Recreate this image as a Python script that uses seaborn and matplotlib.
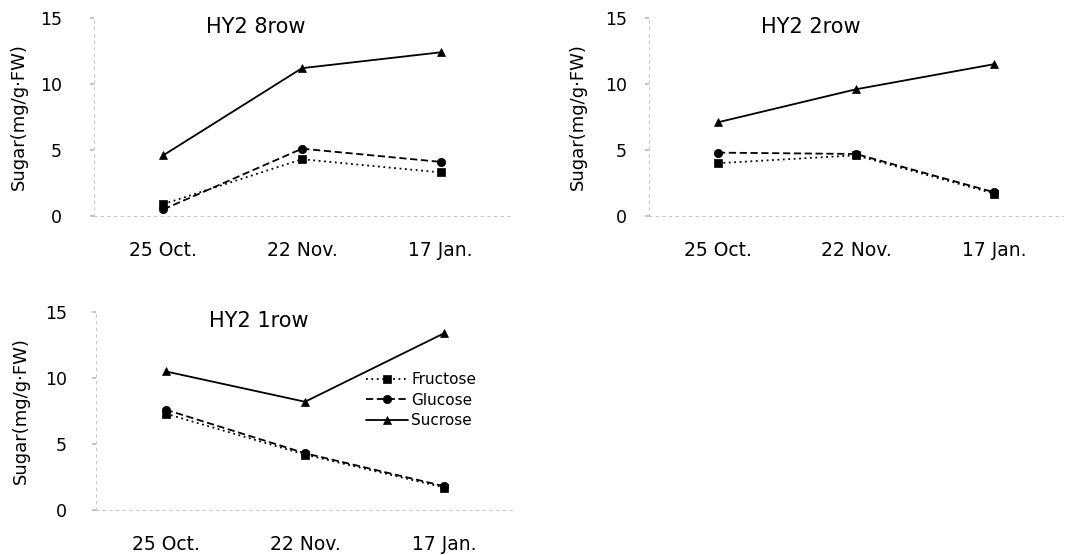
import matplotlib
matplotlib.use("Agg")
import matplotlib.pyplot as plt
import seaborn as sns
import pandas as pd

dates = ["25 Oct.", "22 Nov.", "17 Jan."]
sugars = ["Fructose", "Glucose", "Sucrose"]
titles = ["HY2 8row", "HY2 2row", "HY2 1row"]

row8_fructose = [0.9, 4.3, 3.3]
row8_glucose = [0.5, 5.1, 4.1]
row8_sucrose = [4.6, 11.2, 12.4]

row2_fructose = [4.0, 4.6, 1.7]
row2_glucose = [4.8, 4.7, 1.8]
row2_sucrose = [7.1, 9.6, 11.5]

row1_fructose = [7.3, 4.2, 1.7]
row1_glucose = [7.6, 4.3, 1.8]
row1_sucrose = [10.5, 8.2, 13.4]

yticks = [0, 5, 10, 15]

panels = [
    (titles[0], [row8_fructose, row8_glucose, row8_sucrose]),
    (titles[1], [row2_fructose, row2_glucose, row2_sucrose]),
    (titles[2], [row1_fructose, row1_glucose, row1_sucrose]),
]

sns.set_theme(style="white")
plt.rcParams['font.family'] = ['DejaVu Sans']
plt.rcParams['text.color'] = 'black'
plt.rcParams['axes.labelcolor'] = 'black'

fig = plt.figure(figsize=(10.68, 5.55), dpi=100)
W, H = 1068, 555
boxes = [
    (94, 18, 510, 216),
    (649, 18, 1063, 216),
    (96, 312, 514, 510),
]
ytick_pads = [20, 13, 18]
ylabel_pads = [9, 13, 11]
xtick_pads = [18, 18, 18]

markers = {"Fructose": "s", "Glucose": "o", "Sucrose": "^"}
dashes = {"Fructose": (1, 2), "Glucose": (4, 2), "Sucrose": ""}
palette = {"Fructose": "black", "Glucose": "black", "Sucrose": "black"}

for i, ((title, series), (x0, y0, x1, y1)) in enumerate(zip(panels, boxes)):
    ax = fig.add_axes([x0 / W, 1 - y1 / H, (x1 - x0) / W, (y1 - y0) / H])
    rows = []
    for s, vals in zip(sugars, series):
        for d, v in zip(dates, vals):
            rows.append({"date": d, "sugar": s, "value": v})
    df = pd.DataFrame(rows)
    sns.lineplot(data=df, x="date", y="value", hue="sugar", style="sugar",
                 markers=markers, dashes=dashes, palette=palette,
                 hue_order=sugars, style_order=sugars,
                 linewidth=1.3, markersize=6, markeredgecolor="black",
                 markeredgewidth=0.5, ax=ax, legend=(i == 2))
    ax.set_xlim(-0.5, 2.5)
    ax.set_ylim(0, 15)
    ax.set_yticks(yticks)
    ax.set_yticklabels([str(t) for t in yticks])
    ax.set_xlabel("")
    ax.set_ylabel("Sugar(mg/g·FW)", fontsize=13, labelpad=ylabel_pads[i])
    ax.tick_params(axis="y", labelsize=12.5, length=3, color="#bbbbbb",
                   labelcolor="black", pad=ytick_pads[i], left=True)
    ax.tick_params(axis="x", labelsize=13.5, length=0, pad=xtick_pads[i], labelcolor="black")
    for side in ["top", "right"]:
        ax.spines[side].set_visible(False)
    for side in ["left", "bottom"]:
        ax.spines[side].set_color("#c8c8c8")
        ax.spines[side].set_linewidth(0.8)
        ax.spines[side].set_linestyle((0, (2, 4)))
    ax.text(0.39, 0.955, title, transform=ax.transAxes, ha="center", va="center", fontsize=15)
    for line in ax.lines:
        line.set_clip_on(False)
    if i == 2:
        sns.move_legend(ax, "center left", bbox_to_anchor=(0.645, 0.555), frameon=False,
                        title=None, fontsize=11, handlelength=2.8, handletextpad=0.2,
                        labelspacing=0.35, borderpad=0, borderaxespad=0)

fig.savefig("out.png", dpi=100)
